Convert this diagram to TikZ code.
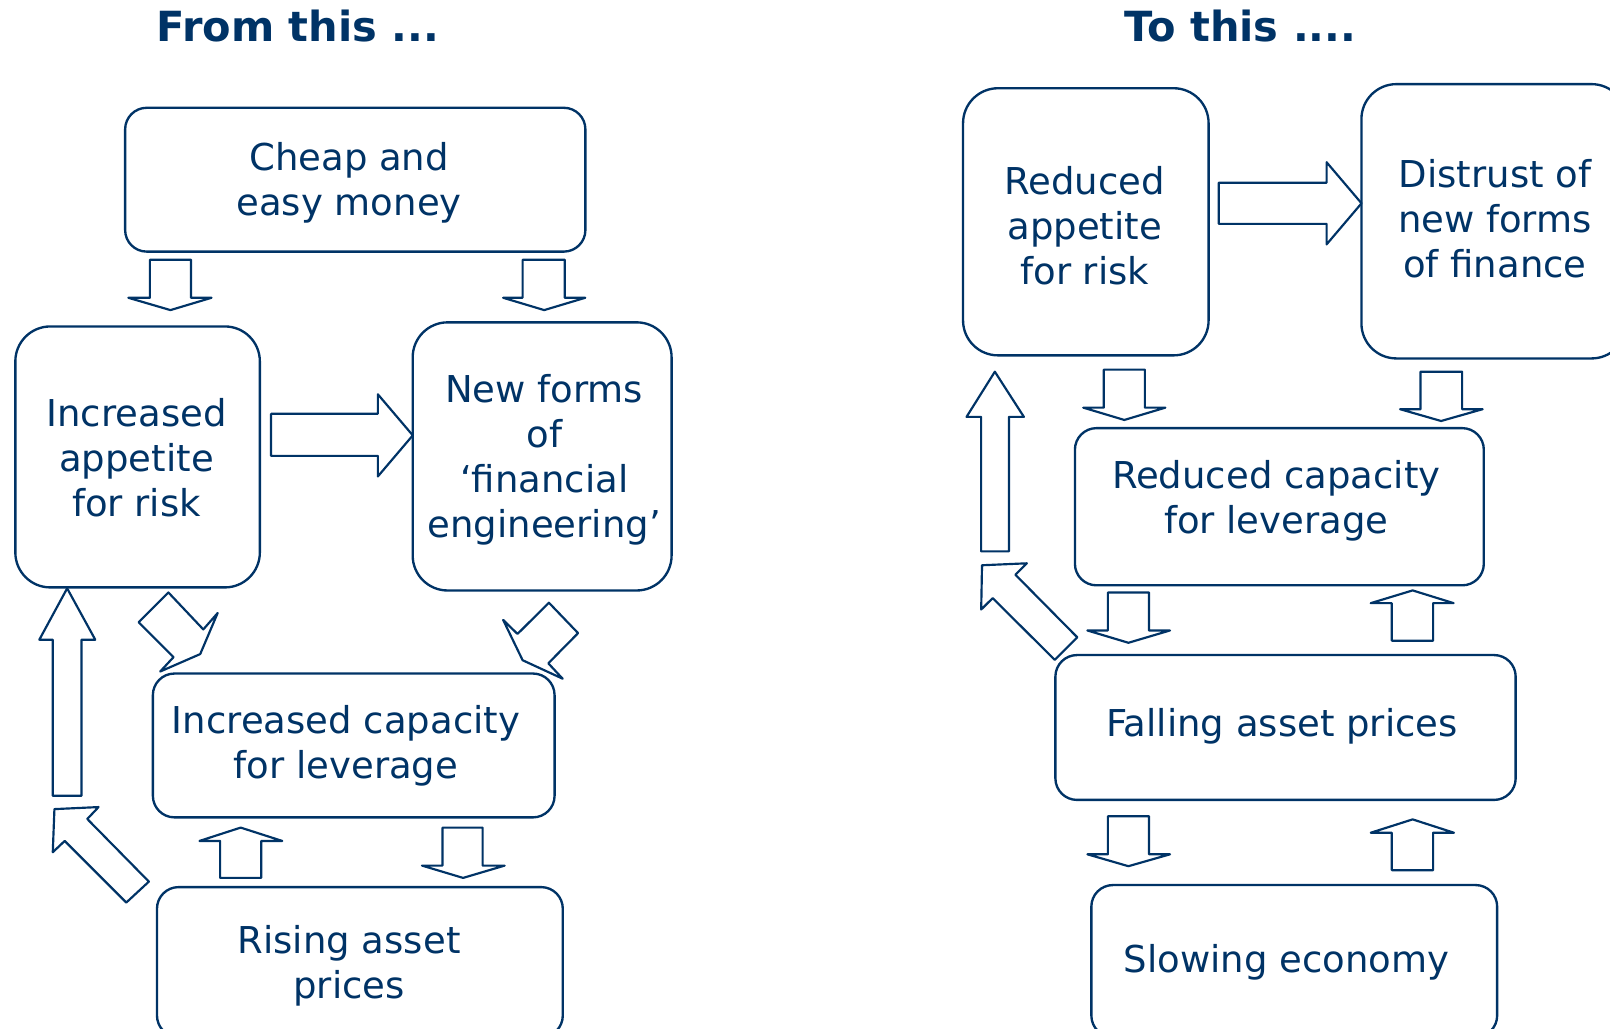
\documentclass[tikz,border=0pt]{standalone}
\usepackage{fontspec}
\setmainfont{DejaVu Sans}
\definecolor{navy}{HTML}{003366}
\begin{document}
\begin{tikzpicture}[x=0.01cm,y=-0.01cm,
  box/.style={draw=navy, line width=0.65pt, fill=white, inner sep=0pt},
  tallbox/.style={box, rounded corners=0.34cm},
  flatbox/.style={box, rounded corners=0.21cm},
  lbl/.style={text=navy, font=\fontsize{10.25}{12.5}\selectfont, align=center, inner sep=0pt, yshift=-0.75pt},
  ttl/.style={text=navy, font=\fontsize{11.5}{14}\selectfont\bfseries, inner sep=0pt, anchor=base},
  barrow/.style={draw=navy, line width=0.6pt, fill=white, line join=round}]
\useasboundingbox (0,0) rectangle (1568,1002);
\clip (0,0) rectangle (1568,1002);

% titles
\node[ttl] (t1) at (290,40) {From this ...};
\node[ttl] (t2) at (1208,40) {To this ....};

% ---------- left diagram: boxes ----------
\node[flatbox, minimum width=4.48cm, minimum height=1.40cm] (cheap) at (346,175) {};
\node[tallbox, minimum width=2.38cm, minimum height=2.54cm] (incapp) at (134,445) {};
\node[tallbox, minimum width=2.52cm, minimum height=2.61cm] (newf) at (528,444.5) {};
\node[flatbox, minimum width=3.91cm, minimum height=1.40cm] (inccap) at (344.5,726) {};
\node[flatbox, minimum width=3.95cm, minimum height=1.46cm] (rising) at (350.5,937) {};

\node[lbl] (cheapT) at (340,175) {Cheap and\\easy money};
\node[lbl] (incappT) at (133,443) {Increased\\appetite\\for risk};
\node[lbl] (newfT) at (530,445) {New forms\\of\\‘financial\\engineering’};
\node[lbl] (inccapT) at (337,723.5) {Increased capacity\\for leverage};
\node[lbl] (risingT) at (340,938) {Rising asset\\prices};

% ---------- left diagram: block arrows ----------
\draw[barrow] (146,253) -- (186,253) -- (186,290) -- (206,290) -- (166,302) -- (125,290) -- (146,290) -- cycle;
\draw[barrow] (509,253) -- (550,253) -- (550,290) -- (570,290) -- (530,302) -- (490,290) -- (509,290) -- cycle;
\draw[barrow] (264,403) -- (368,403) -- (368,384) -- (402,424) -- (368,464) -- (368,444) -- (264,444) -- cycle;
\draw[barrow] (164,577) -- (198,613) -- (212,597) -- (195,637) -- (156,654) -- (169,640) -- (135,606) -- cycle;
\draw[barrow] (534.6,587) -- (563,616.6) -- (534,646) -- (548,661) -- (509,643) -- (490,603.7) -- (504,617.4) -- cycle;
\draw[barrow] (51.4,775) -- (79.3,775) -- (79.3,623) -- (92.8,623) -- (65.4,573) -- (38.3,623) -- (51.4,623) -- cycle;
\draw[barrow] (53,788) -- (96,786) -- (85,797.6) -- (145,858.6) -- (123,879) -- (63,819) -- (51.4,830) -- cycle;
\draw[barrow] (214.4,855) -- (254.4,855) -- (254.4,819) -- (274.9,819) -- (234.4,806) -- (194.3,819) -- (214.4,819) -- cycle;
\draw[barrow] (431,806) -- (470,806) -- (470,843) -- (491.5,843) -- (451,855) -- (411,843) -- (431,843) -- cycle;

% ---------- right diagram: boxes ----------
\node[tallbox, minimum width=2.39cm, minimum height=2.60cm] (redapp) at (1057.5,216) {};
\node[tallbox, minimum width=2.58cm, minimum height=2.67cm] (distrust) at (1455,215.5) {};
\node[flatbox, minimum width=3.98cm, minimum height=1.53cm] (redcap) at (1246,493.5) {};
\node[flatbox, minimum width=4.48cm, minimum height=1.41cm] (falling) at (1252,708.5) {};
\node[flatbox, minimum width=3.95cm, minimum height=1.48cm] (slowing) at (1260.5,936) {};

\node[lbl] (redappT) at (1056.5,217) {Reduced\\appetite\\for risk};
\node[lbl] (distrustT) at (1456,210) {Distrust of\\new forms\\of finance};
\node[lbl] (redcapT) at (1243,485) {Reduced capacity\\for leverage};
\node[lbl] (fallingT) at (1248.5,705) {Falling asset prices};
\node[lbl] (slowingT) at (1253,935) {Slowing economy};

% ---------- right diagram: block arrows ----------
\draw[barrow] (1187,178) -- (1292,178) -- (1292,158) -- (1326,198) -- (1292,238) -- (1292,218) -- (1187,218) -- cycle;
\draw[barrow] (1075,360) -- (1115,360) -- (1115,397) -- (1135,397) -- (1095,409) -- (1055,397) -- (1075,397) -- cycle;
\draw[barrow] (1383.5,362) -- (1424,362) -- (1424,398.5) -- (1444,398.5) -- (1403.5,410) -- (1363.5,398.5) -- (1383.5,398.5) -- cycle;
\draw[barrow] (955.5,537) -- (982.6,537) -- (982.6,406) -- (997.2,406) -- (968.9,362) -- (941.3,406) -- (955.5,406) -- cycle;
\draw[barrow] (956.4,550.5) -- (1000.1,548.6) -- (988.9,559.7) -- (1049.2,620.7) -- (1027.2,642.6) -- (966.8,582.5) -- (955.6,593.6) -- cycle;
\draw[barrow] (1079,577) -- (1119,577) -- (1119,614) -- (1139.5,614) -- (1099,626) -- (1059,614) -- (1079,614) -- cycle;
\draw[barrow] (1355.5,624) -- (1395.7,624) -- (1395.7,587.4) -- (1415.7,587.4) -- (1375.8,575) -- (1335,587.4) -- (1355.5,587.4) -- cycle;
\draw[barrow] (1079,795) -- (1119,795) -- (1119,832) -- (1139.5,832) -- (1099,843.6) -- (1059,832) -- (1079,832) -- cycle;
\draw[barrow] (1355.5,847.5) -- (1395.7,847.5) -- (1395.7,811) -- (1416,811) -- (1375.8,798) -- (1335,811) -- (1355.5,811) -- cycle;
\end{tikzpicture}
\end{document}
